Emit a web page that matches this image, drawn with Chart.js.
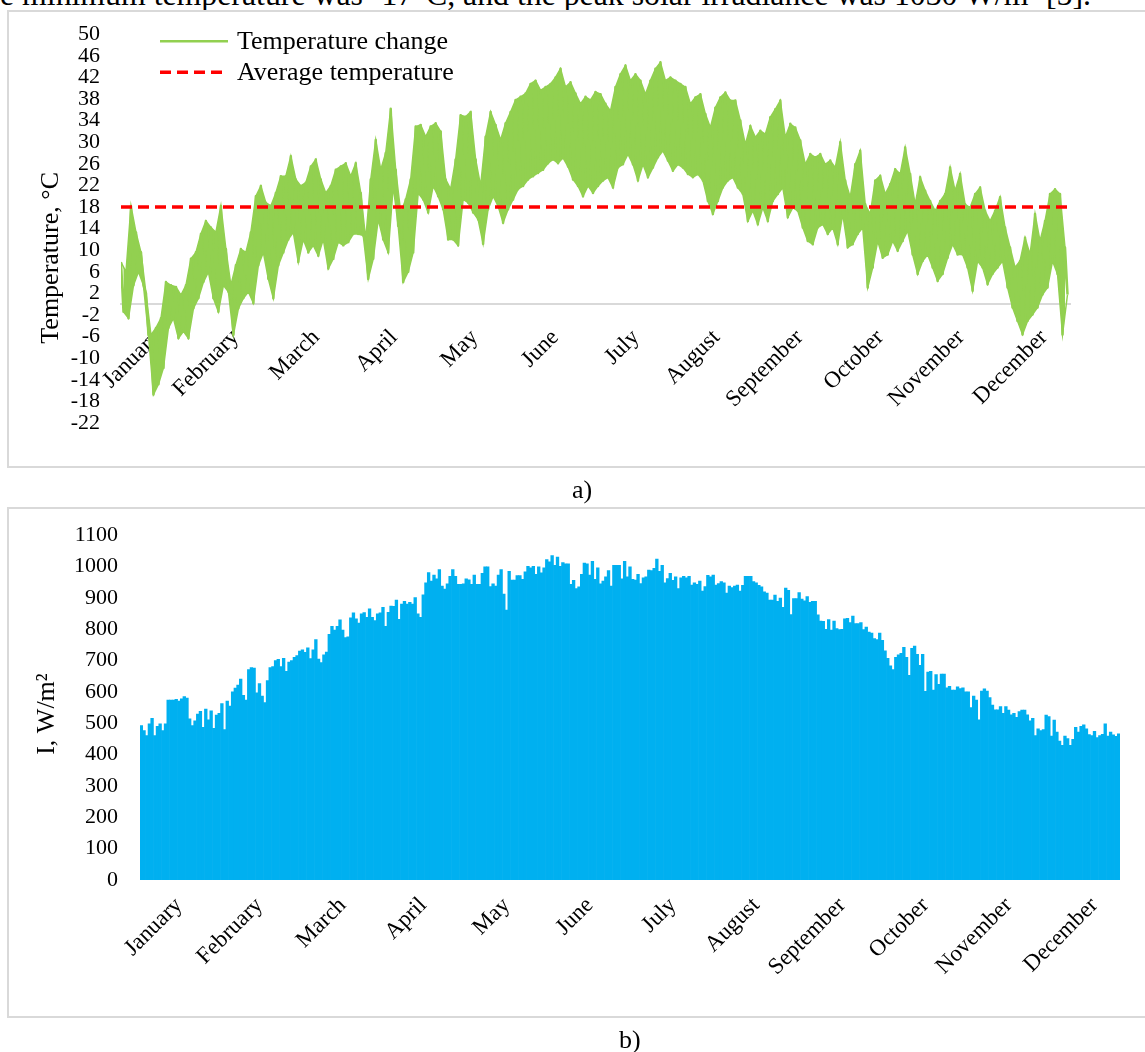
<!DOCTYPE html>
<html>
<head>
<meta charset="utf-8">
<script src="https://cdn.jsdelivr.net/npm/chart.js@4.4.1/dist/chart.umd.min.js"></script>
<style>
  html, body { margin: 0; padding: 0; background: #fff; overflow: hidden; }
  body { width: 1145px; height: 1052px; position: relative; font-family: "Liberation Serif", "Times New Roman", serif; color: #000; }
  .frame { position: absolute; border: 2px solid #d9d9d9; box-sizing: border-box; }
  #frameA { left: 7px; top: 10px; width: 1160px; height: 458px; }
  #frameB { left: 7px; top: 507px; width: 1160px; height: 511px; }
  canvas { position: absolute; left: 0; }
  #chartA { top: 0; }
  #chartB { top: 500px; }
  .cap { position: absolute; font-size: 26px; line-height: 28px; }
  #topText { position: absolute; left: 0; top: -21px; font-size: 31.8px; line-height: 31px; white-space: nowrap; }
</style>
</head>
<body>
<div id="topText">e minimum temperature was -17°C, and the peak solar irradiance was 1030 W/m² [5].</div>
<div class="frame" id="frameA"></div>
<div class="frame" id="frameB"></div>
<canvas id="chartA" width="1145" height="500"></canvas>
<canvas id="chartB" width="1145" height="552"></canvas>
<div class="cap" style="left:572px; top:476px;">a)</div>
<div class="cap" style="left:619px; top:1026px;">b)</div>
<script>
// month labels and where they sit (day of year)
const monthNames = ["January", "February", "March", "April", "May", "June",
  "July", "August", "September", "October", "November", "December"];
const monthTickDays = [14, 44, 75, 105, 136, 167, 198, 229, 261, 292, 323, 355];

// temperature, deg C: upper and lower edge of the daily swing, ~2 days per sample
const tempHigh = [
  7.8, 6.0, 18.2, 13.3, 9.6, 2.0, -5.7, -4.4, -2.6, 4.1,
  3.5, 3.2, 1.7, 3.5, 8.4, 9.6, 13.0, 15.4, 14.2, 13.3,
  18.2, 10.2, 3.5, 7.2, 10.2, 9.6, 13.3, 20.0, 21.9, 18.8,
  18.2, 20.6, 23.7, 23.7, 27.4, 23.1, 21.9, 22.5, 25.5, 26.8,
  23.1, 20.6, 21.9, 24.9, 25.5, 26.1, 23.7, 26.1, 20.6, 12.0,
  23.1, 30.4, 24.9, 28.0, 36.2, 24.9, 17.0, 19.4, 23.1, 32.9,
  33.2, 31.0, 32.9, 33.5, 32.0, 23.1, 21.3, 26.8, 35.0, 34.7,
  35.6, 26.8, 21.9, 31.0, 35.6, 33.2, 30.4, 33.5, 35.6, 37.8,
  38.4, 39.0, 40.8, 41.4, 39.6, 40.2, 40.8, 42.0, 43.6, 40.2,
  41.1, 39.0, 37.1, 38.4, 37.8, 39.3,
  38.9, 37.1, 35.8, 40.2, 42.6, 44.2, 41.4, 42.6, 41.4, 38.9,
  41.4, 43.6, 44.8, 41.4, 42.0, 41.4, 40.8, 40.2, 37.1, 38.3,
  38.9, 35.2, 32.7, 36.4, 38.3, 39.2, 37.7, 37.7, 34.0, 29.6,
  33.0, 30.9, 32.1, 31.5, 34.6, 36.1, 37.7, 30.9, 33.4, 32.7,
  30.3, 25.9, 27.8, 27.2, 27.8, 25.9, 26.6, 25.3, 30.0, 22.9,
  19.8, 25.9, 28.4, 18.5, 16.7, 22.9, 23.8, 20.4, 22.2, 25.0,
  24.1, 29.0, 24.1, 18.5, 23.5, 21.0, 19.1, 17.3, 19.1, 20.4,
  25.3, 21.0, 24.1, 18.5, 17.9, 20.4, 21.6, 17.3, 15.4, 17.3,
  19.8, 14.2, 10.5, 6.8, 8.0, 12.3, 9.2, 16.7, 11.7, 15.4,
  20.4, 21.3, 20.4, 10.5
];
const tempLow = [
  -1.4, -2.6, 3.5, 6.0, 3.5, -5.7, -16.7, -14.8, -11.8, -4.4,
  -2.6, -6.3, -5.0, -6.3, -0.8, 1.1, 4.1, 6.0, 1.1, -1.4,
  3.5, 2.3, -5.7, -0.8, 1.1, 2.3, 0.2, 7.2, 9.6, 4.7,
  1.1, 7.2, 9.6, 12.0, 13.3, 7.8, 12.0, 9.6, 10.9, 9.0,
  12.0, 6.6, 8.4, 11.5, 10.9, 11.5, 13.0, 13.0, 12.7, 4.7,
  8.4, 15.7, 12.0, 9.6, 21.9, 14.5, 4.1, 6.0, 9.6, 20.6,
  19.4, 17.0, 21.9, 20.0, 17.6, 12.0, 12.0, 10.9, 19.4, 18.8,
  17.0, 15.7, 11.2, 17.6, 20.0, 18.2, 15.1, 17.6, 19.4, 21.3,
  21.9, 23.1, 23.7, 24.3, 24.9, 26.1, 26.8, 26.1, 27.1, 25.5,
  23.1, 21.9, 20.0, 21.9, 20.6, 21.9,
  22.9, 23.5, 21.6, 25.3, 25.9, 27.8, 25.9, 22.9, 25.9, 23.5,
  25.3, 27.2, 28.4, 26.6, 24.7, 25.9, 25.3, 24.1, 23.5, 24.1,
  22.9, 19.1, 16.7, 19.1, 21.6, 22.9, 23.5, 21.6, 20.4, 15.4,
  17.3, 14.8, 17.9, 15.4, 19.1, 20.4, 21.6, 16.1, 17.9, 17.3,
  14.2, 11.7, 11.1, 14.2, 14.8, 13.0, 14.2, 11.1, 16.7, 10.5,
  11.1, 13.0, 14.2, 3.1, 6.8, 11.7, 8.6, 9.2, 11.7, 9.9,
  11.7, 13.6, 9.2, 5.6, 8.0, 9.2, 6.8, 4.3, 5.6, 8.6,
  11.1, 9.2, 9.2, 6.8, 2.5, 8.0, 6.8, 3.7, 5.6, 6.8,
  8.0, 3.1, -0.6, -3.1, -5.6, -3.1, -1.9, -0.6, 1.8, 3.1,
  8.0, 5.6, -5.6, 1.8
];
const averageTemp = 18;

// solar irradiance, W/m2: daily peak, one value per day
const irradiancePeak = [
  493, 477, 461, 498, 516, 461, 490, 498, 477, 498,
  574, 574, 574, 576, 571, 578, 585, 580, 514, 493,
  508, 529, 538, 487, 545, 511, 540, 484, 526, 532,
  563, 480, 571, 555, 600, 612, 622, 641, 589, 574,
  671, 678, 676, 597, 627, 587, 566, 636, 678, 681,
  700, 704, 681, 707, 666, 695, 700, 710, 716, 730,
  734, 726, 741, 706, 734, 767, 705, 694, 718, 727,
  784, 809, 797, 809, 830, 797, 773, 776, 836, 852,
  833, 820, 849, 853, 838, 865, 838, 828, 849, 852,
  870, 809, 854, 874, 873, 893, 832, 880, 889, 880,
  886, 880, 901, 849, 838, 910, 948, 981, 954, 973,
  961, 990, 938, 928, 945, 969, 990, 969, 943, 943,
  945, 961, 958, 943, 973, 943, 943, 978, 999, 999,
  936, 945, 938, 973, 990, 912, 861, 985, 957, 957,
  971, 971, 959, 983, 1001, 996, 1001, 975, 999, 980,
  996, 1022, 1015, 1035, 1004, 1030, 1001, 1013, 1009, 1009,
  943, 956, 930, 935, 975, 1011, 1009, 973, 1017, 959,
  996, 945, 954, 967, 987, 938, 1004, 1004,
  1004, 961, 1017, 967, 999, 959, 957, 975, 946, 964,
  967, 989, 987, 994, 1024, 985, 1004, 948, 962, 978,
  956, 967, 930, 964, 969, 964, 969, 941, 948, 943,
  954, 922, 936, 972, 967, 973, 941, 946, 952, 948,
  915, 938, 933, 938, 941, 922, 940, 969, 969, 969,
  952, 948, 940, 935, 919, 915, 893, 893, 909, 889,
  899, 870, 931, 924, 847, 898, 898, 917, 896, 891,
  904, 886, 889, 889, 846, 826, 825, 800, 831, 797,
  826, 802, 799, 800, 833, 835, 821, 842, 818, 818,
  821, 799, 807, 791, 788, 770, 767, 788, 765, 731,
  707, 683, 671, 710, 718, 723, 742, 710, 653, 739,
  746, 720, 685, 720, 602, 663, 666, 606, 655, 624,
  657, 657, 613, 618, 606, 606, 616, 611, 613, 600,
  600, 550, 587, 574, 511, 603, 610, 603, 582, 558,
  543, 543, 553, 532, 553, 542, 527, 532, 519, 537,
  542, 542, 527, 508, 516, 461, 482, 477, 480, 526,
  521, 459, 510, 472, 443, 430, 459, 451, 430, 449,
  487, 472, 490, 495, 482, 464, 461, 474, 454, 461,
  465, 498, 459, 472, 463, 458, 466
];

const serif = "'Liberation Serif', 'Times New Roman', serif";
const green = "#92d050";
Chart.defaults.font.family = serif;
Chart.defaults.color = "#000";

// line runs high -> low -> high through each sample, spread over the year
const step = 365 / tempHigh.length;
const tempPoints = [];
const highPoints = [];
const lowPoints = [];
tempHigh.forEach((hi, i) => {
  highPoints.push({ x: i * step, y: hi });
  lowPoints.push({ x: (i + 0.5) * step, y: tempLow[i] });
  tempPoints.push(highPoints[i], lowPoints[i]);
});

// legend drawn inside the plot, top left
const insideLegend = {
  id: "insideLegend",
  afterDraw(chart) {
    const { ctx, chartArea } = chart;
    ctx.save();
    ctx.font = "26px " + serif;
    ctx.textBaseline = "middle";
    chart.data.datasets.filter(ds => ds.inLegend).forEach((ds, i) => {
      const y = chartArea.top + 7 + i * 31;
      const x0 = chartArea.left + 39;
      ctx.strokeStyle = ds.borderColor;
      ctx.lineWidth = ds.borderWidth;
      ctx.setLineDash(ds.borderDash || []);
      ctx.beginPath();
      ctx.moveTo(x0, y);
      ctx.lineTo(x0 + 68, y);
      ctx.stroke();
      ctx.fillStyle = "#000";
      ctx.fillText(ds.label, x0 + 77, y + 1);
    });
    ctx.restore();
  }
};

new Chart(document.getElementById("chartA"), {
  type: "line",
  data: {
    datasets: [{
      label: "Temperature change",
      inLegend: true,
      data: tempPoints,
      borderColor: green,
      borderWidth: 2.5,
      borderJoinStyle: "round",
      pointRadius: 0,
      order: 1
    }, {
      label: "Average temperature",
      inLegend: true,
      data: [{ x: 0, y: averageTemp }, { x: 365, y: averageTemp }],
      borderColor: "#ff0000",
      borderWidth: 3.5,
      borderDash: [11, 6],
      pointRadius: 0,
      order: 0
    }, {
      // daily swing band, upper edge filled down to the lower edge
      label: "high",
      data: highPoints,
      borderColor: green,
      borderWidth: 1.5,
      backgroundColor: green,
      fill: "+1",
      pointRadius: 0,
      order: 2
    }, {
      label: "low",
      data: lowPoints,
      borderColor: green,
      borderWidth: 1.5,
      pointRadius: 0,
      order: 2
    }]
  },
  options: {
    responsive: false,
    animation: false,
    layout: { padding: { left: 0, top: 30, right: 75, bottom: 77 } },
    plugins: { legend: { display: false }, tooltip: { enabled: false } },
    scales: {
      x: {
        type: "linear",
        min: 0,
        max: 365,
        position: { y: 0 },
        afterBuildTicks: s => { s.ticks = monthTickDays.map(v => ({ value: v })); },
        ticks: {
          autoSkip: false,
          minRotation: 45,
          maxRotation: 45,
          padding: 20,
          font: { size: 23 },
          callback: (v, i) => monthNames[i]
        },
        grid: { display: false, drawTicks: false },
        border: { display: true, color: "#d9d9d9", width: 2 }
      },
      y: {
        min: -22,
        max: 50,
        afterFit: s => { s.width = 121; },
        ticks: { stepSize: 4, autoSkip: false, padding: 21, font: { size: 22 }, callback: v => String(v) },
        grid: { display: false, drawTicks: false },
        border: { display: false },
        title: {
          display: true,
          text: "Temperature, °C\u00a0\u00a0\u00a0\u00a0\u00a0\u00a0\u00a0\u00a0\u00a0",
          font: { size: 26 },
          padding: { top: 36, bottom: 0 }
        }
      }
    }
  },
  plugins: [insideLegend]
});

new Chart(document.getElementById("chartB"), {
  type: "bar",
  data: {
    labels: irradiancePeak.map((v, i) => i),
    datasets: [{
      label: "I",
      data: irradiancePeak,
      backgroundColor: "#00b0f0",
      borderWidth: 0,
      barPercentage: 1,
      categoryPercentage: 1
    }]
  },
  options: {
    responsive: false,
    animation: false,
    layout: { padding: { left: 0, top: 30, right: 25, bottom: 0 } },
    plugins: { legend: { display: false }, tooltip: { enabled: false } },
    scales: {
      x: {
        afterBuildTicks: s => { s.ticks = monthTickDays.map(v => ({ value: v })); },
        afterFit: s => { s.height = 172; },
        ticks: {
          autoSkip: false,
          minRotation: 45,
          maxRotation: 45,
          padding: 12,
          font: { size: 23 },
          callback: (v, i) => monthNames[i]
        },
        grid: { display: false, drawTicks: false },
        border: { display: false }
      },
      y: {
        min: 0,
        max: 1100,
        afterFit: s => { s.width = 140; },
        ticks: { stepSize: 100, padding: 22, font: { size: 22 }, callback: v => String(v) },
        grid: { display: false, drawTicks: false },
        border: { display: false },
        title: {
          display: true,
          text: "I, W/m²\u00a0\u00a0",
          font: { size: 26 },
          padding: { top: 32, bottom: 0 }
        }
      }
    }
  }
});
</script>
</body>
</html>
